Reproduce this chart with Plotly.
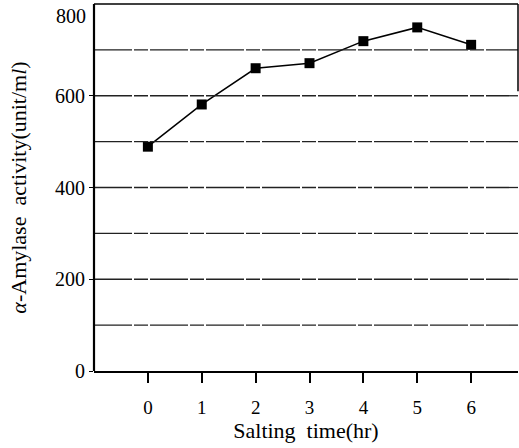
import plotly.graph_objects as go

salting_time = [0, 1, 2, 3, 4, 5, 6]
activity = [489, 581, 660, 671, 719, 749, 711]
y_tick_vals = [0, 200, 400, 600]
y_tick_text = ["0", "200", "400", "600"]
grid_vals = [100, 200, 300, 400, 500, 600, 700]

FONT = "Liberation Serif"

fig = go.Figure()
fig.add_trace(go.Scatter(
    x=salting_time, y=activity, mode="lines+markers",
    line=dict(color="black", width=1.5),
    marker=dict(symbol="square", size=10, color="black"),
    showlegend=False,
))

shapes = []
for g in grid_vals:
    shapes.append(dict(type="line", xref="paper", yref="y", x0=0, x1=1, y0=g, y1=g,
                       line=dict(color="#222", width=1.3, dash="38px,2px,14px,2px")))
shapes.append(dict(type="line", xref="paper", yref="paper", x0=0, x1=0, y0=0, y1=1,
                   line=dict(color="black", width=2.2)))
shapes.append(dict(type="line", xref="paper", yref="paper", x0=0, x1=1, y0=1, y1=1,
                   line=dict(color="black", width=1.5)))
shapes.append(dict(type="line", xref="paper", yref="y", x0=1, x1=1, y0=610, y1=800,
                   line=dict(color="black", width=1.5)))

fig.update_layout(
    width=519, height=448,
    margin=dict(l=94, r=1, t=4, b=77),
    paper_bgcolor="white", plot_bgcolor="white",
    font=dict(family=FONT, color="black", size=19),
    shapes=shapes,
    xaxis=dict(
        range=[-1, 6.87], tickvals=salting_time,
        ticktext=[str(v) for v in salting_time],
        showgrid=False, zeroline=False,
        showline=True, linecolor="black", linewidth=1.5,
        ticks="outside", ticklen=10, tickwidth=2, tickcolor="black",
        ticklabelstandoff=8,
        tickfont=dict(family=FONT, size=19),
        title=dict(text="Salting  time(hr)", font=dict(family=FONT, size=22), standoff=0),
    ),
    yaxis=dict(
        range=[0, 800], tickvals=y_tick_vals, ticktext=y_tick_text,
        showgrid=False, zeroline=False, showline=False,
        ticks="outside", ticklen=4, tickwidth=1, tickcolor="black",
        tickfont=dict(family=FONT, size=20),
        title=dict(text="<i>α</i>-Amylase  activity(unit/m<i>l</i>)",
                   font=dict(family=FONT, size=22), standoff=22),
    ),
    annotations=[dict(text="800", xref="paper", yref="y", x=0, y=800,
                      xanchor="right", yanchor="middle", xshift=-6, yshift=-12,
                      showarrow=False, font=dict(family=FONT, size=20))],
)

fig.write_html("out.html", config={"displayModeBar": False},
               post_script="document.body.style.margin='0';document.body.style.overflow='hidden';")
